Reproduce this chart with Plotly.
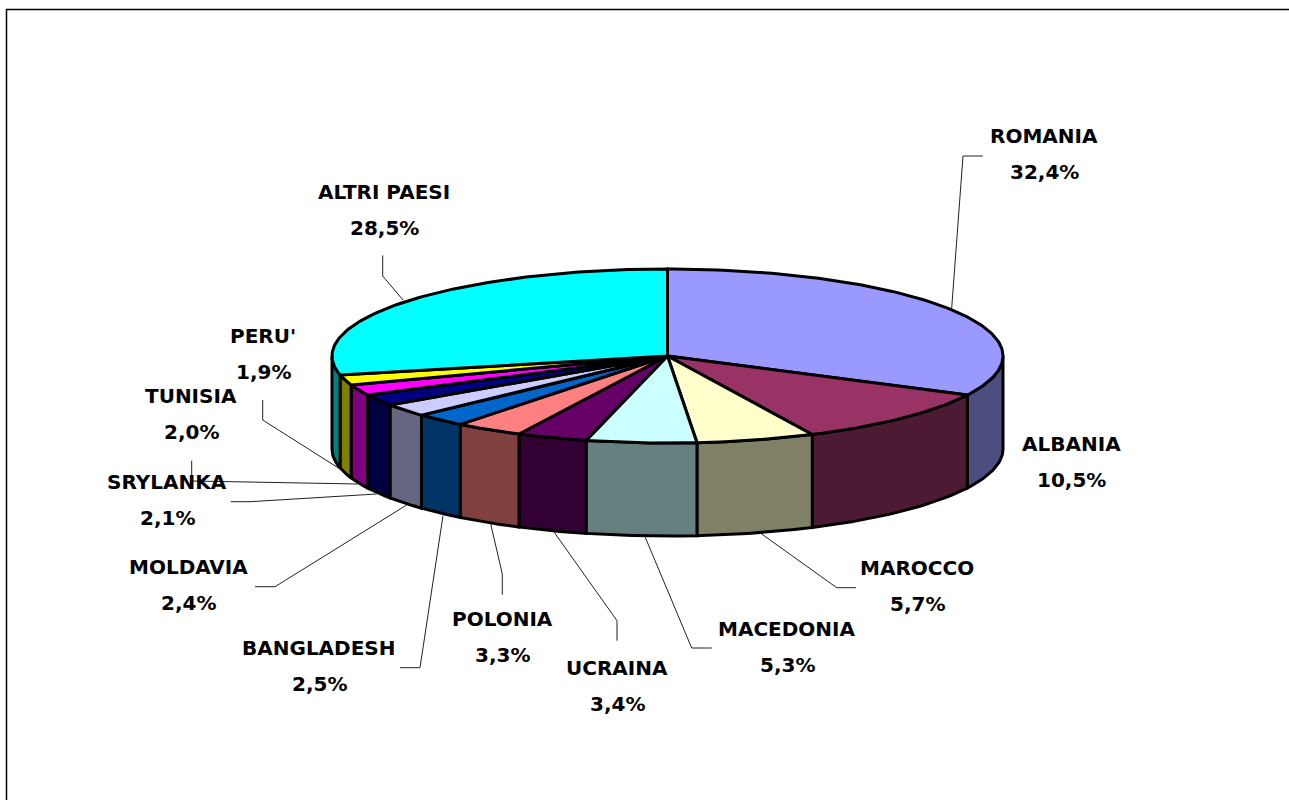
import numpy as np
import plotly.graph_objects as go

countries = ["ROMANIA", "ALBANIA", "MAROCCO", "MACEDONIA", "UCRAINA", "POLONIA",
             "BANGLADESH", "MOLDAVIA", "SRYLANKA", "TUNISIA", "PERU'", "ALTRI PAESI"]
shares = [32.4, 10.5, 5.7, 5.3, 3.4, 3.3, 2.5, 2.4, 2.1, 2.0, 1.9, 28.5]
top_colors = ["#9999FF", "#993366", "#FFFFCC", "#CCFFFF", "#660066", "#FF8080",
              "#0066CC", "#CCCCFF", "#000080", "#FF00FF", "#FFFF00", "#00FFFF"]
side_colors = ["#4D4D80", "#4D1A33", "#808066", "#668080", "#330033", "#804040",
               "#003366", "#666680", "#000040", "#800080", "#808000", "#008080"]

# label anchor points (pixel-like axis units)
label_x = [1044, 1071, 917, 787, 617, 502, 319, 188, 167, 191, 263, 384]
label_y = [136, 444, 568, 629, 668, 619, 648, 567, 482, 396, 336, 192]
LINE_GAP = 36

leaders = [
    [(982.7, 156), (963, 156), (951.7, 308)],
    [(761.7, 534), (836.7, 587.7), (856, 587.7)],
    [(645, 536.7), (691.7, 648), (711.7, 648)],
    [(554, 532), (617, 620.7), (617, 640.7)],
    [(490.7, 524), (502.3, 574), (502.3, 594.7)],
    [(443, 515.7), (420, 667.7), (400, 667.7)],
    [(406.7, 505), (275, 586.7), (255, 586.7)],
    [(376.7, 494), (250, 501.7), (230.7, 501.7)],
    [(358, 484), (210, 481), (191.7, 481), (191.7, 460.7)],
    [(340, 469), (262.7, 420), (262.7, 400)],
    [(403, 300), (382.7, 276), (382.7, 255.5)],
]

CX, CY, RX, RY, DEPTH = 667.5, 356.0, 335.5, 87.0, 93.0
FONT = "DejaVu Sans"
FONT_SIZE = 20
EDGE = 3


def arc(t0, t1):
    n = max(2, int(np.ceil((t1 - t0) * 60)))
    t = np.linspace(t0, t1, n)
    return CX + RX * np.sin(t), CY - RY * np.cos(t)


edges = np.concatenate([[0], np.cumsum(shares)]) / np.sum(shares) * 2 * np.pi

fig = go.Figure()

# side walls, only where the front of the disc is visible
for i in range(len(shares)):
    t0 = max(edges[i], np.pi / 2)
    t1 = min(edges[i + 1], 3 * np.pi / 2)
    if t1 <= t0:
        continue
    x, y = arc(t0, t1)
    fig.add_trace(go.Scatter(
        x=np.concatenate([x, x[::-1], x[:1]]),
        y=np.concatenate([y, y[::-1] + DEPTH, y[:1]]),
        mode="lines", fill="toself", fillcolor=side_colors[i],
        line=dict(color="black", width=EDGE), hoverinfo="skip", showlegend=False))

# top face
for i in range(len(shares)):
    x, y = arc(edges[i], edges[i + 1])
    fig.add_trace(go.Scatter(
        x=np.concatenate([[CX], x, [CX]]),
        y=np.concatenate([[CY], y, [CY]]),
        mode="lines", fill="toself", fillcolor=top_colors[i],
        line=dict(color="black", width=EDGE), name=countries[i],
        hoverinfo="name", showlegend=False))

# leader lines
for pts in leaders:
    fig.add_trace(go.Scatter(
        x=[p[0] for p in pts], y=[p[1] for p in pts], mode="lines",
        line=dict(color="#222222", width=1), hoverinfo="skip", showlegend=False))

# frame
fig.add_trace(go.Scatter(x=[1289, 6.5, 6.5], y=[9.5, 9.5, 800], mode="lines",
                         line=dict(color="black", width=1.5),
                         hoverinfo="skip", showlegend=False))

for name, val, lx, ly in zip(countries, shares, label_x, label_y):
    for txt, yy in ((name, ly), (f"{val:.1f}%".replace(".", ","), ly + LINE_GAP)):
        fig.add_annotation(x=lx, y=yy, text=f"<b>{txt}</b>", showarrow=False,
                           xanchor="center", yanchor="middle",
                           font=dict(family=FONT, size=FONT_SIZE, color="black"))

fig.update_layout(
    width=1289, height=800, margin=dict(l=0, r=0, t=0, b=0),
    paper_bgcolor="white", plot_bgcolor="white", showlegend=False,
    xaxis=dict(range=[0, 1289], visible=False, fixedrange=True),
    yaxis=dict(range=[800, 0], visible=False, fixedrange=True),
)

fig.write_html("out.html", config={"displayModeBar": False},
               post_script="document.body.style.margin='0';document.body.style.overflow='hidden';")
